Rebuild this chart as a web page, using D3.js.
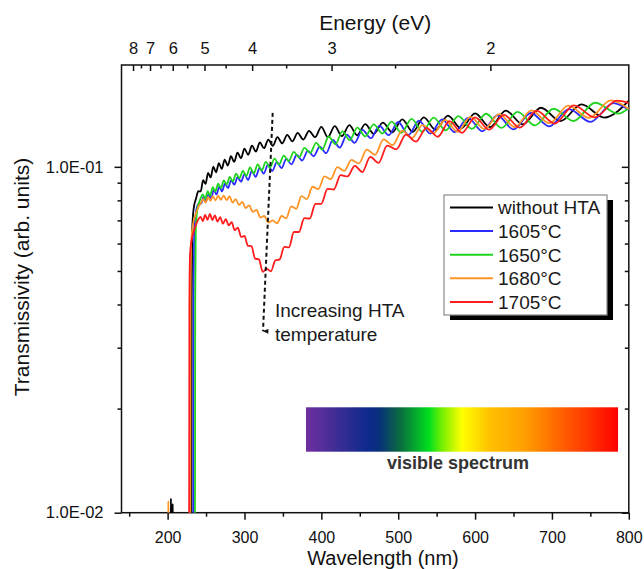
<!DOCTYPE html>
<html>
<head>
<meta charset="utf-8">
<script src="https://cdn.jsdelivr.net/npm/d3@7"></script>
<style>
	html, body { margin: 0; padding: 0; background: #fff; }
	svg { display: block; font-family: 'Liberation Sans', Arial, sans-serif; }
</style>
</head>
<body>
<div id="chart"></div>
<script>
/* global d3 */

// Axes
const wavelengthTicks = [ 200, 300, 400, 500, 600, 700, 800 ];
const wavelengthMinorTicks = [ 150, 250, 350, 450, 550, 650, 750 ];
const energyTicks = [ 8, 7, 6, 5, 4, 3, 2 ];
const energyMinorTicks = [ 7.5, 6.5, 5.5, 4.5, 3.5, 2.5 ];
const transTicks = [ 0.01, 0.1 ];
const transTickLabels = [ '1.0E-02', '1.0E-01' ];
const transMinorTicks = [ 0.02, 0.03, 0.04, 0.05, 0.06, 0.07, 0.08, 0.09 ];

// Series: [ wavelength (nm), transmissivity ]
const seriesLabels = [ 'without HTA', '1605°C', '1650°C', '1680°C', '1705°C' ];

const withoutHta = [
	[ 204, 0.009 ], [ 204.3, 0.011 ], [ 204.6, 0.009 ], [ 206.3, 0.009 ], [ 206.6, 0.0106 ], [ 206.9, 0.009 ],
	[ 231, 0.009 ], [ 231.3, 0.04 ], [ 232, 0.066 ], [ 234, 0.076 ], [ 237, 0.081 ], [ 240, 0.085 ],
	[ 243, 0.0849 ], [ 246.2, 0.0915 ], [ 249.4, 0.0893 ], [ 252.6, 0.0961 ], [ 256, 0.0932 ], [ 259.5, 0.1002 ],
	[ 263, 0.0964 ], [ 266.7, 0.1025 ], [ 270.4, 0.0986 ], [ 274.3, 0.1049 ], [ 278.3, 0.1009 ], [ 282.4, 0.1073 ],
	[ 286.6, 0.1033 ], [ 290.9, 0.1100 ], [ 295.4, 0.1059 ], [ 300, 0.1128 ], [ 304.8, 0.1084 ], [ 309.7, 0.1151 ],
	[ 314.8, 0.1107 ], [ 320, 0.1177 ], [ 325.4, 0.1132 ], [ 331, 0.1199 ], [ 336.8, 0.1150 ], [ 342.9, 0.1219 ],
	[ 349.1, 0.1169 ], [ 355.6, 0.1237 ], [ 362.3, 0.1185 ], [ 369.2, 0.1254 ], [ 376.5, 0.1199 ], [ 384, 0.1271 ],
	[ 391.8, 0.1219 ], [ 400, 0.1304 ], [ 408.5, 0.1219 ], [ 417.4, 0.1311 ], [ 426.7, 0.1227 ], [ 436.4, 0.1320 ],
	[ 446.5, 0.1234 ], [ 457.1, 0.1329 ], [ 468.3, 0.1246 ], [ 480, 0.1343 ], [ 492.3, 0.1259 ], [ 505.3, 0.1372 ],
	[ 518.9, 0.1262 ], [ 533.3, 0.1390 ], [ 548.6, 0.1279 ], [ 564.7, 0.1407 ], [ 581.8, 0.1292 ], [ 600, 0.1428 ],
	[ 619.4, 0.1303 ], [ 640, 0.1453 ], [ 662.1, 0.1327 ], [ 685.7, 0.1482 ], [ 711.1, 0.1356 ], [ 738.5, 0.1515 ],
	[ 768, 0.1388 ], [ 800, 0.1554 ],
];

const hta1605 = [
	[ 233.4, 0.008 ], [ 233.7, 0.04 ], [ 234.5, 0.064 ], [ 236.5, 0.073 ], [ 240, 0.078 ],
	[ 243.8, 0.0784 ], [ 246.8, 0.0822 ], [ 250, 0.0796 ], [ 253.2, 0.0834 ], [ 256.6, 0.0809 ], [ 260, 0.0857 ],
	[ 263.5, 0.0832 ], [ 267.1, 0.0875 ], [ 270.8, 0.0850 ], [ 274.6, 0.0894 ], [ 278.6, 0.0868 ], [ 282.6, 0.0914 ],
	[ 286.8, 0.0888 ], [ 291, 0.0933 ], [ 295.5, 0.0906 ], [ 300, 0.0953 ], [ 304.7, 0.0916 ], [ 309.5, 0.0973 ],
	[ 314.5, 0.0935 ], [ 319.7, 0.0993 ], [ 325, 0.0956 ], [ 330.5, 0.1014 ], [ 336.2, 0.0973 ], [ 342.1, 0.1032 ],
	[ 348.2, 0.0992 ], [ 354.5, 0.1055 ], [ 361.1, 0.1016 ], [ 367.9, 0.1082 ], [ 375, 0.1043 ], [ 382.4, 0.1112 ],
	[ 390, 0.1073 ], [ 398, 0.1144 ], [ 406.3, 0.1095 ], [ 414.9, 0.1196 ], [ 423.9, 0.1136 ], [ 433.3, 0.1239 ],
	[ 443.2, 0.1173 ], [ 453.5, 0.1279 ], [ 464.3, 0.1209 ], [ 475.6, 0.1314 ], [ 487.5, 0.1235 ], [ 500, 0.1348 ],
	[ 513.2, 0.1237 ], [ 527, 0.1360 ], [ 541.7, 0.1248 ], [ 557.1, 0.1372 ], [ 573.5, 0.1260 ], [ 590.9, 0.1386 ],
	[ 609.4, 0.1267 ], [ 629, 0.1409 ], [ 650, 0.1283 ], [ 672.4, 0.1431 ], [ 696.4, 0.1309 ], [ 722.2, 0.1468 ],
	[ 750, 0.1349 ], [ 780, 0.1529 ], [ 800, 0.1460 ],
];

const hta1650 = [
	[ 235.6, 0.008 ], [ 235.9, 0.04 ], [ 236.6, 0.065 ], [ 238.5, 0.075 ], [ 241.5, 0.0795 ],
	[ 245.8, 0.0832 ], [ 248.9, 0.0808 ], [ 252.1, 0.0851 ], [ 255.3, 0.0826 ], [ 258.7, 0.0873 ], [ 262.1, 0.0849 ],
	[ 265.7, 0.0894 ], [ 269.3, 0.0868 ], [ 273.1, 0.0914 ], [ 276.9, 0.0889 ], [ 280.9, 0.0935 ], [ 284.9, 0.0908 ],
	[ 289.1, 0.0956 ], [ 293.4, 0.0927 ], [ 297.9, 0.0974 ], [ 302.5, 0.0941 ], [ 307.2, 0.0997 ], [ 312.1, 0.0957 ],
	[ 317.1, 0.1016 ], [ 322.3, 0.0975 ], [ 327.7, 0.1034 ], [ 333.2, 0.0994 ], [ 339, 0.1056 ], [ 344.9, 0.1015 ],
	[ 351.1, 0.1078 ], [ 357.5, 0.1038 ], [ 364.1, 0.1105 ], [ 370.9, 0.1065 ], [ 378.1, 0.1135 ], [ 385.5, 0.1097 ],
	[ 393.2, 0.1173 ], [ 401.2, 0.1122 ], [ 409.6, 0.1224 ], [ 418.3, 0.1162 ], [ 427.4, 0.1267 ], [ 436.9, 0.1195 ],
	[ 446.8, 0.1299 ], [ 457.2, 0.1225 ], [ 468.1, 0.1327 ], [ 479.5, 0.1249 ], [ 491.5, 0.1351 ], [ 504.1, 0.1253 ],
	[ 517.4, 0.1376 ], [ 531.4, 0.1263 ], [ 546.1, 0.1388 ], [ 561.7, 0.1275 ], [ 578.2, 0.1401 ], [ 595.8, 0.1287 ],
	[ 614.4, 0.1424 ], [ 634.2, 0.1296 ], [ 655.3, 0.1442 ], [ 677.9, 0.1318 ], [ 702.1, 0.1472 ], [ 728.1, 0.1357 ],
	[ 756.2, 0.1532 ], [ 786.4, 0.1425 ], [ 800, 0.1480 ],
];

const hta1680 = [
	[ 200.6, 0.009 ], [ 200.9, 0.0108 ], [ 201.2, 0.009 ],
	[ 229.5, 0.009 ], [ 229.8, 0.04 ], [ 230.6, 0.060 ], [ 232.5, 0.067 ], [ 236, 0.0725 ], [ 240, 0.0765 ], [ 243, 0.0785 ],
	[ 246.3, 0.0806 ], [ 249.4, 0.0788 ], [ 252.5, 0.0817 ], [ 255.7, 0.0798 ], [ 259, 0.0823 ], [ 262.3, 0.0800 ],
	[ 265.8, 0.0825 ], [ 269.3, 0.0803 ], [ 273, 0.0826 ], [ 276.7, 0.0801 ], [ 280.6, 0.0822 ], [ 284.5, 0.0788 ],
	[ 288.6, 0.0807 ], [ 292.8, 0.0776 ], [ 297.1, 0.0792 ], [ 301.5, 0.0760 ], [ 306.1, 0.0774 ], [ 310.8, 0.0741 ],
	[ 315.6, 0.0751 ], [ 320.6, 0.0714 ], [ 325.8, 0.0721 ], [ 331.1, 0.0690 ], [ 336.7, 0.0700 ], [ 342.4, 0.0687 ],
	[ 348.3, 0.0721 ], [ 354.4, 0.0710 ], [ 360.7, 0.0769 ], [ 367.3, 0.0756 ], [ 374.1, 0.0823 ], [ 381.1, 0.0807 ],
	[ 388.5, 0.0876 ], [ 396.1, 0.0862 ], [ 404, 0.0939 ], [ 412.2, 0.0922 ], [ 420.8, 0.0998 ], [ 429.8, 0.0973 ],
	[ 439.1, 0.1048 ], [ 448.9, 0.1023 ], [ 459.1, 0.1122 ], [ 469.8, 0.1083 ], [ 481, 0.1200 ], [ 492.7, 0.1155 ],
	[ 505, 0.1273 ], [ 517.9, 0.1212 ], [ 531.6, 0.1320 ], [ 545.9, 0.1250 ], [ 561.1, 0.1368 ], [ 577.1, 0.1263 ],
	[ 594.1, 0.1395 ], [ 612.1, 0.1286 ], [ 631.3, 0.1420 ], [ 651.6, 0.1302 ], [ 673.3, 0.1457 ], [ 696.6, 0.1337 ],
	[ 721.4, 0.1503 ], [ 748.1, 0.1385 ], [ 776.9, 0.1556 ], [ 800, 0.1470 ],
];

const hta1705 = [
	[ 228, 0.009 ], [ 228.3, 0.04 ], [ 229.2, 0.056 ], [ 231, 0.061 ], [ 234, 0.065 ], [ 238, 0.0690 ],
	[ 242.9, 0.0716 ], [ 245.8, 0.0697 ], [ 248.8, 0.0726 ], [ 251.9, 0.0703 ], [ 255, 0.0731 ], [ 258.2, 0.0702 ],
	[ 261.5, 0.0724 ], [ 264.9, 0.0695 ], [ 268.4, 0.0715 ], [ 272, 0.0685 ], [ 275.7, 0.0706 ], [ 279.5, 0.0677 ],
	[ 283.3, 0.0692 ], [ 287.3, 0.0656 ], [ 291.4, 0.0667 ], [ 295.7, 0.0627 ], [ 300, 0.0631 ], [ 304.5, 0.0591 ],
	[ 309.1, 0.0590 ], [ 313.8, 0.0543 ], [ 318.8, 0.0540 ], [ 323.8, 0.0497 ], [ 329, 0.0507 ], [ 334.4, 0.0499 ],
	[ 340, 0.0536 ], [ 345.8, 0.0540 ], [ 351.7, 0.0587 ], [ 357.9, 0.0585 ], [ 364.3, 0.0648 ], [ 370.9, 0.0648 ],
	[ 377.8, 0.0711 ], [ 384.9, 0.0709 ], [ 392.3, 0.0781 ], [ 400, 0.0782 ], [ 408, 0.0864 ], [ 416.3, 0.0860 ],
	[ 425, 0.0946 ], [ 434, 0.0938 ], [ 443.5, 0.1007 ], [ 453.3, 0.0966 ], [ 463.6, 0.1068 ], [ 474.4, 0.1027 ],
	[ 485.7, 0.1152 ], [ 497.6, 0.1124 ], [ 510, 0.1239 ], [ 523.1, 0.1183 ], [ 536.8, 0.1297 ], [ 551.4, 0.1222 ],
	[ 566.7, 0.1355 ], [ 582.9, 0.1254 ], [ 600, 0.1390 ], [ 618.2, 0.1281 ], [ 637.5, 0.1413 ], [ 658.1, 0.1298 ],
	[ 680, 0.1453 ], [ 703.4, 0.1334 ], [ 728.6, 0.1506 ], [ 755.6, 0.1390 ], [ 784.6, 0.1554 ], [ 800, 0.1530 ],
];

const seriesData = [ withoutHta, hta1605, hta1650, hta1680, hta1705 ];
const seriesColors = [ '#000000', '#2b2bff', '#1fd41f', '#ff9326', '#ff1c1c' ];

// Visible spectrum bar, wavelength span (nm) and colour stops
const spectrumRange = [ 380, 786 ];
const spectrumOffsets = [ 0, 0.2, 0.235, 0.3, 0.395, 0.44, 0.5, 0.59, 0.7, 0.8, 0.91, 1 ];
const spectrumColors = [ '#6f2f9f', '#0c2a8c', '#08307a', '#0a6a40', '#00e01e', '#80f000', '#ffff00', '#ffc000', '#ff9f00', '#ff6a00', '#ff3200', '#ff0000' ];

// Annotation arrow: [ wavelength, transmissivity ]
const arrowStart = [ 336.7, 0.1432 ];
const arrowEnd = [ 324.1, 0.0335 ];

const hc = 1239.84;
const width = 644;
const height = 569;
const plot = { left: 121.5, right: 628.8, top: 65, bottom: 512.7 };
const fontFamily = '\'Liberation Sans\', Arial, sans-serif';

const x = d3.scaleLinear().domain( [ 140, 800 ] ).range( [ plot.left, plot.right ] );
const y = d3.scaleLog().domain( [ 0.01, 0.197 ] ).range( [ plot.bottom, plot.top ] );

const svg = d3.select( '#chart' )
	.append( 'svg' )
	.attr( 'width', width )
	.attr( 'height', height );

const defs = svg.append( 'defs' );

defs.append( 'clipPath' )
	.attr( 'id', 'plot-clip' )
	.append( 'rect' )
	.attr( 'x', plot.left )
	.attr( 'y', plot.top )
	.attr( 'width', plot.right - plot.left )
	.attr( 'height', plot.bottom - plot.top );

const gradient = defs.append( 'linearGradient' )
	.attr( 'id', 'spectrum' )
	.attr( 'x1', '0%' )
	.attr( 'x2', '100%' );

gradient.selectAll( 'stop' )
	.data( spectrumOffsets )
	.enter()
	.append( 'stop' )
	.attr( 'offset', ( d ) => d )
	.attr( 'stop-color', ( d, i ) => spectrumColors[ i ] );

defs.append( 'marker' )
	.attr( 'id', 'arrow-head' )
	.attr( 'viewBox', '0 0 10 10' )
	.attr( 'refX', 5 )
	.attr( 'refY', 9 )
	.attr( 'markerWidth', 6 )
	.attr( 'markerHeight', 8 )
	.attr( 'markerUnits', 'userSpaceOnUse' )
	.attr( 'orient', 'auto-start-reverse' )
	.append( 'path' )
	.attr( 'd', 'M1,0 L9,0 L5,10 Z' )
	.attr( 'fill', '#111' );

function styleAxis( g, size ) {
	g.attr( 'font-family', fontFamily )
		.attr( 'font-size', size );
	g.select( '.domain' ).remove();
	g.selectAll( '.tick line' ).attr( 'stroke', '#111' ).attr( 'stroke-width', 1.5 );
	g.selectAll( '.tick text' ).attr( 'fill', '#111' );
}

// Bottom wavelength axis (outward ticks)
svg.append( 'g' )
	.attr( 'transform', `translate(0,${ plot.bottom })` )
	.call( d3.axisBottom( x ).tickValues( wavelengthTicks ).tickSize( 7 ).tickPadding( 12 ).tickFormat( d3.format( 'd' ) ) )
	.call( ( g ) => styleAxis( g, 16 ) );

svg.append( 'g' )
	.attr( 'transform', `translate(0,${ plot.bottom })` )
	.call( d3.axisBottom( x ).tickValues( wavelengthMinorTicks ).tickSize( 4 ).tickFormat( '' ) )
	.call( ( g ) => styleAxis( g, 10 ) );

// Top energy axis (inward ticks)
svg.append( 'g' )
	.attr( 'transform', `translate(0,${ plot.top })` )
	.call( d3.axisTop( x ).tickValues( energyTicks.map( ( e ) => hc / e ) ).tickSize( -6 ).tickPadding( 11 )
		.tickFormat( ( d ) => Math.round( hc / d ) ) )
	.call( ( g ) => styleAxis( g, 16.5 ) );

svg.append( 'g' )
	.attr( 'transform', `translate(0,${ plot.top })` )
	.call( d3.axisTop( x ).tickValues( energyMinorTicks.map( ( e ) => hc / e ) ).tickSize( -3.5 ).tickFormat( '' ) )
	.call( ( g ) => styleAxis( g, 10 ) );

// Left transmissivity axis (outward ticks)
svg.append( 'g' )
	.attr( 'transform', `translate(${ plot.left },0)` )
	.call( d3.axisLeft( y ).tickValues( transTicks ).tickSize( 7 ).tickPadding( 11 )
		.tickFormat( ( d, i ) => transTickLabels[ i ] ) )
	.call( ( g ) => styleAxis( g, 16.5 ) );

svg.append( 'g' )
	.attr( 'transform', `translate(${ plot.left },0)` )
	.call( d3.axisLeft( y ).tickValues( transMinorTicks ).tickSize( 4 ).tickFormat( '' ) )
	.call( ( g ) => styleAxis( g, 10 ) );

// Right axis mirror (inward ticks, no labels)
svg.append( 'g' )
	.attr( 'transform', `translate(${ plot.right },0)` )
	.call( d3.axisLeft( y ).tickValues( transTicks ).tickSize( 7 ).tickFormat( '' ) )
	.call( ( g ) => styleAxis( g, 10 ) );

svg.append( 'g' )
	.attr( 'transform', `translate(${ plot.right },0)` )
	.call( d3.axisLeft( y ).tickValues( transMinorTicks ).tickSize( 4 ).tickFormat( '' ) )
	.call( ( g ) => styleAxis( g, 10 ) );

// Frame
svg.append( 'rect' )
	.attr( 'x', plot.left )
	.attr( 'y', plot.top )
	.attr( 'width', plot.right - plot.left )
	.attr( 'height', plot.bottom - plot.top )
	.attr( 'fill', 'none' )
	.attr( 'stroke', '#111' )
	.attr( 'stroke-width', 1.5 );

// Axis titles
svg.append( 'text' )
	.attr( 'x', ( plot.left + plot.right ) / 2 )
	.attr( 'y', 30 )
	.attr( 'text-anchor', 'middle' )
	.style( 'font-size', '21px' )
	.attr( 'fill', '#111' )
	.text( 'Energy (eV)' );

svg.append( 'text' )
	.attr( 'x', 383 )
	.attr( 'y', 564.5 )
	.attr( 'text-anchor', 'middle' )
	.style( 'font-size', '20px' )
	.attr( 'fill', '#111' )
	.text( 'Wavelength (nm)' );

svg.append( 'text' )
	.attr( 'transform', 'translate(29,277) rotate(-90)' )
	.attr( 'text-anchor', 'middle' )
	.style( 'font-size', '21px' )
	.attr( 'fill', '#111' )
	.text( 'Transmissivity (arb. units)' );

// Curves
const line = d3.line()
	.x( ( d ) => x( d[ 0 ] ) )
	.y( ( d ) => y( d[ 1 ] ) )
	.curve( d3.curveMonotoneX );

svg.append( 'g' )
	.attr( 'clip-path', 'url(#plot-clip)' )
	.selectAll( 'path' )
	.data( seriesData )
	.enter()
	.append( 'path' )
	.attr( 'd', line )
	.attr( 'fill', 'none' )
	.attr( 'stroke', ( d, i ) => seriesColors[ i ] )
	.attr( 'stroke-width', 1.8 )
	.attr( 'stroke-linejoin', 'round' );

// Dashed arrow and annotation
svg.append( 'line' )
	.attr( 'x1', x( arrowStart[ 0 ] ) )
	.attr( 'y1', y( arrowStart[ 1 ] ) )
	.attr( 'x2', x( arrowEnd[ 0 ] ) )
	.attr( 'y2', y( arrowEnd[ 1 ] ) )
	.attr( 'stroke', '#111' )
	.attr( 'stroke-width', 2 )
	.attr( 'stroke-dasharray', '4,3' )
	.attr( 'marker-end', 'url(#arrow-head)' );

const note = svg.append( 'text' )
	.attr( 'x', 275 )
	.attr( 'y', 316.5 )
	.style( 'font-size', '19px' )
	.attr( 'fill', '#1a1a1a' );

note.append( 'tspan' ).text( 'Increasing HTA' );
note.append( 'tspan' ).attr( 'x', 275 ).attr( 'dy', 24.5 ).text( 'temperature' );

// Legend
const legend = svg.append( 'g' ).attr( 'transform', 'translate(444,195)' );

legend.append( 'rect' )
	.attr( 'x', 6 )
	.attr( 'y', 5 )
	.attr( 'width', 163 )
	.attr( 'height', 120 )
	.attr( 'fill', '#000' );

legend.append( 'rect' )
	.attr( 'width', 163 )
	.attr( 'height', 120 )
	.attr( 'fill', '#fff' )
	.attr( 'stroke', '#8a8a8a' )
	.attr( 'stroke-width', 1.2 );

const legendRows = legend.selectAll( '.legend-row' )
	.data( seriesLabels )
	.enter()
	.append( 'g' )
	.attr( 'class', 'legend-row' )
	.attr( 'transform', ( d, i ) => `translate(0,${ 12.5 + i * 23.6 })` );

legendRows.append( 'line' )
	.attr( 'x1', 6 )
	.attr( 'x2', 49 )
	.attr( 'stroke', ( d, i ) => seriesColors[ i ] )
	.attr( 'stroke-width', 2 );

legendRows.append( 'text' )
	.attr( 'x', 54 )
	.attr( 'dy', '0.36em' )
	.style( 'font-size', '19px' )
	.attr( 'fill', '#1a1a1a' )
	.text( ( d ) => d );

// Visible spectrum bar
svg.append( 'rect' )
	.attr( 'x', x( spectrumRange[ 0 ] ) )
	.attr( 'y', 407.3 )
	.attr( 'width', x( spectrumRange[ 1 ] ) - x( spectrumRange[ 0 ] ) )
	.attr( 'height', 44.4 )
	.attr( 'fill', 'url(#spectrum)' );

svg.append( 'text' )
	.attr( 'x', 458 )
	.attr( 'y', 469 )
	.attr( 'text-anchor', 'middle' )
	.style( 'font-size', '18px' )
	.style( 'font-weight', '700' )
	.attr( 'fill', '#333' )
	.text( 'visible spectrum' );
</script>
</body>
</html>
